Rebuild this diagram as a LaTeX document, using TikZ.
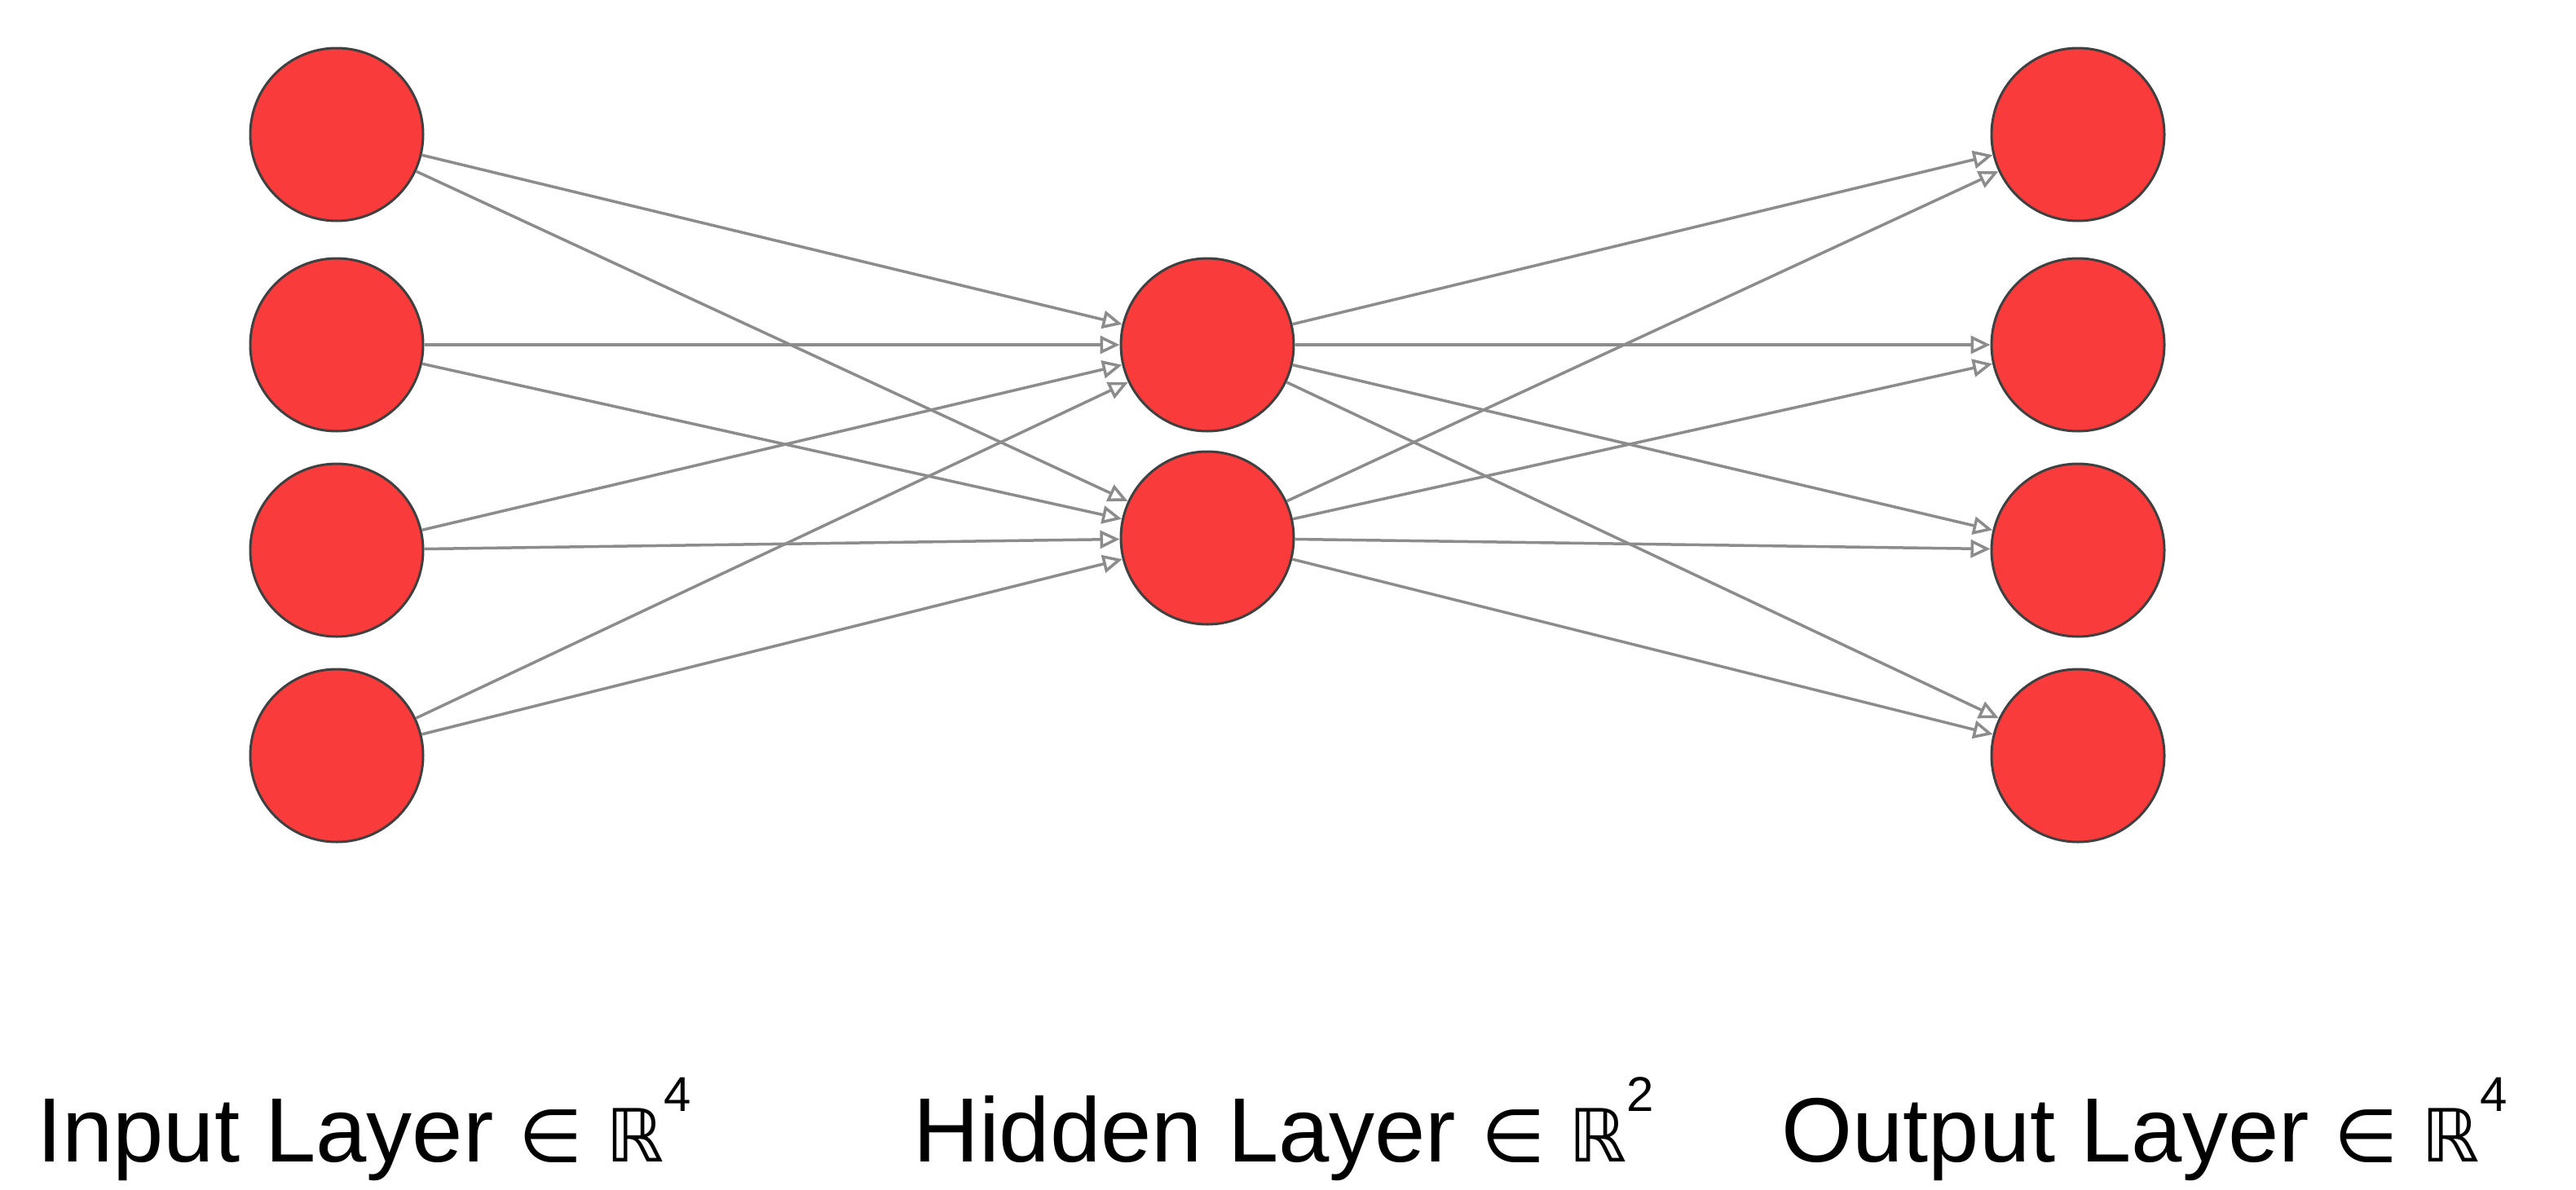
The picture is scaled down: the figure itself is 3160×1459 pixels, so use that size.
\documentclass[tikz,border=0pt]{standalone}
\usepackage{fontspec}
\setmainfont{Liberation Sans}
\newfontfamily\symfont{DejaVu Sans}
\usetikzlibrary{arrows.meta}
\definecolor{nred}{HTML}{F93B3B}
\newcommand{\myexp}[1]{\raisebox{0.55em}{\fontsize{60}{60}\selectfont #1}}
\begin{document}
\begin{tikzpicture}[x=1pt,y=-1pt,
 neuron/.style={circle,fill=nred,draw=black!75,line width=3pt,minimum size=212pt,inner sep=0},
 conn/.style={draw=black!45,line width=3.5pt,-{Triangle[open,length=24pt,width=22pt]}},
 lbl/.style={font=\fontsize{112}{112}\selectfont,inner sep=0,anchor=base west}]
\useasboundingbox (0,0) rectangle (3160,1459);
\foreach \i/\y in {1/165,2/423,3/675,4/927}{
  \node[neuron] (i\i) at (413,\y) {};
  \node[neuron] (o\i) at (2549,\y) {};
}
\node[neuron] (h1) at (1481,423) {};
\node[neuron] (h2) at (1481,660) {};
\foreach \i in {1,...,4}{
  \foreach \h in {1,2}{
    \draw[conn] (i\i) -- (h\h);
    \draw[conn] (h\h) -- (o\i);
  }
}
\node[lbl] (l1) at (45,1425) {Input Layer {\symfont\fontsize{90}{90}\selectfont ∈ ℝ}\myexp{4}};
\node[lbl] (l2) at (1120,1425) {Hidden Layer {\symfont\fontsize{90}{90}\selectfont ∈ ℝ}\myexp{2}};
\node[lbl] (l3) at (2185,1425) {Output Layer {\symfont\fontsize{90}{90}\selectfont ∈ ℝ}\myexp{4}};
\end{tikzpicture}
\end{document}
